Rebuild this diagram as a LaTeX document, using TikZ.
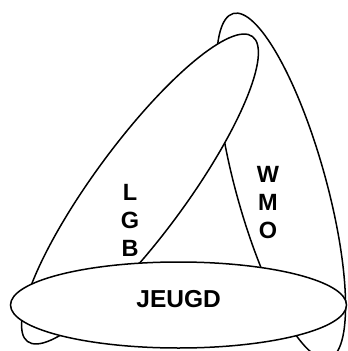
\documentclass[tikz,border=0pt]{standalone}
\usepackage{fontspec}
\setmainfont{Liberation Sans}
\usetikzlibrary{shapes.geometric}

\begin{document}
\begin{tikzpicture}[x=1pt, y=-1pt,
  set/.style={ellipse, draw=black, fill=white, line width=1.5pt, inner sep=0pt},
  lbl/.style={font=\bfseries\fontsize{23.5}{28}\selectfont, align=center, inner sep=0pt}
]
\useasboundingbox (0,0) rectangle (348,351);
\node[set, minimum width=358pt, minimum height=90pt, rotate=105.5] (wmo) at (281,186) {};
\node[set, minimum width=379pt, minimum height=92pt, rotate=53.6] (lgb) at (140,189) {};
\node[set, minimum width=336pt, minimum height=86pt] (jeugd) at (178.5,305) {};
\node[lbl] (lgblabel) at (130,220) {L\\G\\B};
\node[lbl] (wmolabel) at (268,202.5) {W\\M\\O};
\node[lbl, font=\bfseries\fontsize{24.5}{28}\selectfont] (jeugdlabel) at (178.7,298.7) {JEUGD};
\end{tikzpicture}
\end{document}
